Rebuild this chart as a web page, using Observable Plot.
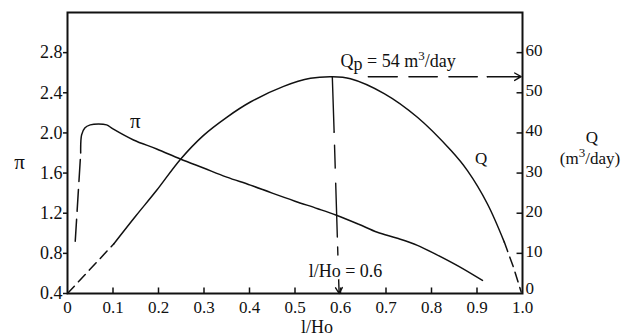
<!DOCTYPE html>
<html><head><meta charset="utf-8">
<script src="https://cdn.jsdelivr.net/npm/d3@7"></script>
<script src="https://cdn.jsdelivr.net/npm/@observablehq/plot@0.6"></script>
<style>body{margin:0;background:#fff} svg{display:block}</style>
</head><body><div id="chart"></div>
<script>
// Tick values
const xTicks = [0, 0.1, 0.2, 0.3, 0.4, 0.5, 0.6, 0.7, 0.8, 0.9, 1.0];
const piTicks = [0.4, 0.8, 1.2, 1.6, 2.0, 2.4, 2.8];
const qTicks = [0, 10, 20, 30, 40, 50, 60];

// π curve (left axis)
const piDashX = [0.017, 0.029];
const piDashY = [0.92, 1.80];
const piX = [0.029, 0.031, 0.038, 0.05, 0.068, 0.086, 0.10, 0.145, 0.196, 0.248, 0.299, 0.35, 0.402, 0.45, 0.50, 0.55, 0.591, 0.64, 0.681, 0.725, 0.769, 0.81, 0.86, 0.912];
const piY = [1.80, 1.98, 2.05, 2.08, 2.09, 2.08, 2.04, 1.93, 1.84, 1.74, 1.65, 1.56, 1.48, 1.40, 1.32, 1.245, 1.18, 1.09, 1.01, 0.95, 0.88, 0.79, 0.67, 0.53];

// Q curve (right axis, m3/day)
const qDashStartX = [0, 0.102];
const qDashStartY = [0, 12.4];
const qX = [0.102, 0.15, 0.196, 0.248, 0.299, 0.35, 0.402, 0.475, 0.534, 0.582, 0.622, 0.696, 0.769, 0.843, 0.879, 0.923, 0.96];
const qY = [12.4, 19.3, 25.7, 33.4, 39.4, 43.9, 47.7, 51.6, 53.6, 54.0, 53.5, 49.8, 43.9, 35.6, 30.6, 22.3, 12.8];
const qDashEndX = [0.96, 0.98, 0.997];
const qDashEndY = [12.8, 6.6, 0.4];

// Optimum annotations
const qPeak = 54;
const optX = [0.582, 0.586, 0.5955, 0.597];
const optQ = [54, 40.2, 5, 0];
const qpX = [0.582, 0.923, 0.997];

// Right axis shares the frame: Q 0..70 ↔ π 0.4..3.2
const qToY = q => 0.4 + q * 0.04;
const yToQ = y => Math.round((y - 0.4) / 0.04);

const zip = (xs, ys, f = v => v) => xs.map((x, i) => ({x, y: f(ys[i])}));
const ink = "#111";
const serif = "Liberation Serif, Times New Roman, serif";

const chart = Plot.plot({
  width: 626,
  height: 335,
  marginLeft: 67,
  marginRight: 104,
  marginTop: 12,
  marginBottom: 42,
  style: {fontFamily: serif, fontSize: "17px", background: "white", color: ink},
  x: {domain: [0, 1], label: null},
  y: {domain: [0.4, 3.2], label: null},
  marks: [
    // axes
    Plot.axisX(xTicks, {anchor: "bottom", tickSize: 0, tickPadding: 7, fontSize: 17,
      tickFormat: d => d === 0 ? "0" : d.toFixed(1), label: null}),
    Plot.ruleX(xTicks.filter(d => d > 0 && d < 1), {y1: 0.4, y2: 0.455, stroke: ink, strokeWidth: 1.5}),
    Plot.axisY(piTicks, {anchor: "left", tickSize: 4, tickPadding: 1, fontSize: 18,
      tickFormat: d => d.toFixed(1), strokeWidth: 1.5, label: null}),
    Plot.axisY(qTicks.slice(1).map(qToY), {anchor: "right", tickSize: 0, tickPadding: 3, fontSize: 17, dy: -2,
      tickFormat: d => String(yToQ(d)), label: null}),
    Plot.axisY(qTicks.slice(0, 1).map(qToY), {anchor: "right", tickSize: 0, tickPadding: 3, fontSize: 17, dy: -5,
      tickFormat: d => String(yToQ(d)), label: null}),
    Plot.ruleY(qTicks.slice(1).map(qToY), {x1: 0.988, x2: 1.0, stroke: ink, strokeWidth: 1.5}),
    Plot.frame({stroke: ink, strokeWidth: 2}),

    // π curve
    Plot.line(zip(piDashX, piDashY), {x: "x", y: "y", stroke: ink, strokeWidth: 1.5, strokeDasharray: "22,8"}),
    Plot.line(zip(piX, piY), {x: "x", y: "y", stroke: ink, strokeWidth: 1.5, curve: "catmull-rom"}),

    // Q curve
    Plot.line(zip(qDashStartX, qDashStartY, qToY), {x: "x", y: "y", stroke: ink, strokeWidth: 1.5, strokeDasharray: "10,6"}),
    Plot.line(zip(qX, qY, qToY), {x: "x", y: "y", stroke: ink, strokeWidth: 1.5, curve: "catmull-rom"}),
    Plot.line(zip(qDashEndX, qDashEndY, qToY), {x: "x", y: "y", stroke: ink, strokeWidth: 1.5, strokeDasharray: "10,6"}),

    // Qp horizontal arrow
    Plot.line(zip(qpX.slice(0, 2), [qPeak, qPeak], qToY), {x: "x", y: "y", stroke: ink, strokeWidth: 1.4,
      strokeDasharray: "0,36,29,11.6,28.4,11.6,28.4,10"}),
    Plot.arrow([{x1: qpX[1], y1: qToY(qPeak), x2: qpX[2], y2: qToY(qPeak)}],
      {x1: "x1", y1: "y1", x2: "x2", y2: "y2", stroke: ink, strokeWidth: 1.4, headLength: 8}),

    // optimum vertical line
    Plot.line(zip(optX.slice(0, 2), optQ.slice(0, 2), qToY), {x: "x", y: "y", stroke: ink, strokeWidth: 1.4}),
    Plot.line(zip(optX.slice(1, 3), optQ.slice(1, 3), qToY), {x: "x", y: "y", stroke: ink, strokeWidth: 1.4,
      strokeDasharray: "0,13,23,15,54,10,8,40"}),
    Plot.arrow([{x1: optX[2], y1: qToY(optQ[2]), x2: optX[3], y2: qToY(optQ[3])}],
      {x1: "x1", y1: "y1", x2: "x2", y2: "y2", stroke: ink, strokeWidth: 1.4, headLength: 8}),

    // annotations
    Plot.text(["l/Ho = 0.6"], {x: 0.611, y: 0.62, text: d => d, fontSize: 18, fill: ink,
      stroke: "white", strokeWidth: 5, paintOrder: "stroke", lineAnchor: "middle"}),
    Plot.text(["Qp = 54 m3/day"], {x: 0.600, y: 2.654, text: d => d, fontSize: 18, fill: ink,
      textAnchor: "start", lineAnchor: "bottom"}),
    Plot.text(["π"], {x: 0.149, y: 2.053, text: d => d, fontSize: 21, fill: ink, lineAnchor: "bottom"}),
    Plot.text(["Q"], {x: 0.909, y: 1.695, text: d => d, fontSize: 17, fill: ink, lineAnchor: "bottom"}),

    // axis titles
    Plot.text(["π"], {frameAnchor: "left", dx: -48, dy: 15.5, text: d => d, fontSize: 21, fill: ink,
      textAnchor: "middle", lineAnchor: "bottom"}),
    Plot.text(["Q"], {frameAnchor: "right", dx: 69.5, dy: -15, text: d => d, fontSize: 17, fill: ink,
      textAnchor: "middle"}),
    Plot.text(["(m3/day)"], {frameAnchor: "right", dx: 67.5, dy: 6, text: d => d, fontSize: 17, fill: ink,
      textAnchor: "middle"}),
    Plot.text(["l/Ho"], {frameAnchor: "bottom", dx: 22, dy: 39, text: d => d, fontSize: 18, fill: ink,
      textAnchor: "middle", lineAnchor: "bottom"})
  ]
});

// rich text: subscripts / superscripts
function rich(svg, match, parts) {
  svg.querySelectorAll("text").forEach(t => {
    if (t.textContent === match && t.children.length === 0) {
      t.textContent = "";
      for (const [s, dy, fs] of parts) {
        const ts = document.createElementNS("http://www.w3.org/2000/svg", "tspan");
        ts.textContent = s;
        if (dy) ts.setAttribute("dy", dy);
        if (fs) ts.setAttribute("font-size", fs);
        t.appendChild(ts);
      }
    }
  });
}
rich(chart, "Qp = 54 m3/day", [["Q"], ["p", "3"], [" = 54 m", "-3"], ["3", "-7", 13], ["/day", "7"]]);
rich(chart, "(m3/day)", [["(m"], ["3", "-7", 13], ["/day)", "7"]]);

document.getElementById("chart").appendChild(chart);
</script>
</body></html>
